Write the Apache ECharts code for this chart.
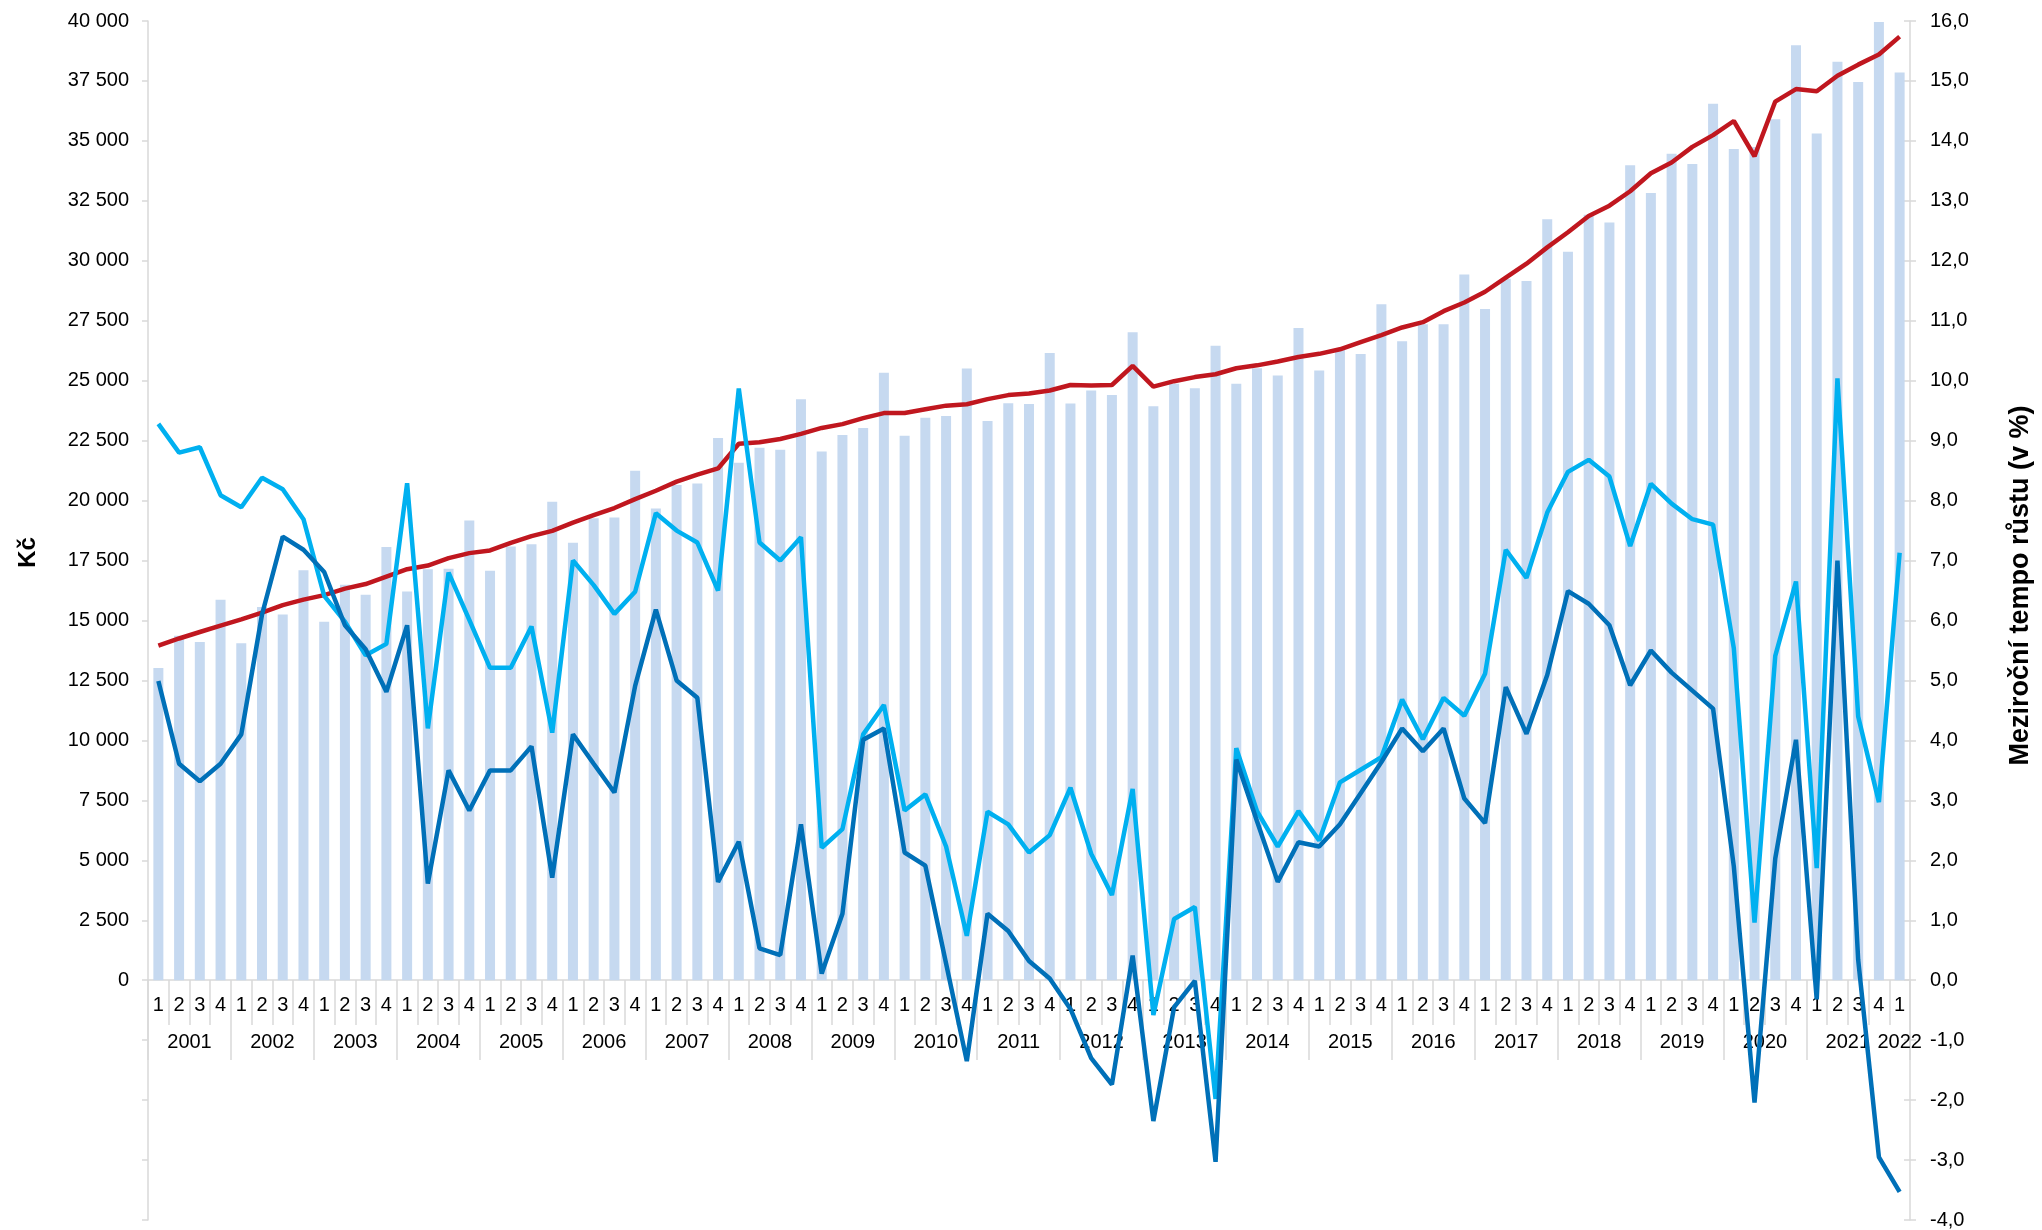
<!DOCTYPE html>
<html>
<head>
<meta charset="utf-8">
<script src="https://cdn.jsdelivr.net/npm/echarts@6/dist/echarts.min.js"></script>
<style>
  html, body { margin: 0; padding: 0; background: #fff; }
  #chart { width: 2042px; height: 1230px; }
</style>
</head>
<body>
<div id="chart"></div>
<script type="text/javascript">
// years and quarters shown on the category axis (series ends with 2022 Q1)
var years = [2001, 2002, 2003, 2004, 2005, 2006, 2007, 2008, 2009, 2010, 2011,
             2012, 2013, 2014, 2015, 2016, 2017, 2018, 2019, 2020, 2021, 2022];
var quarters = ['1', '2', '3', '4'];
var lastQuarters = 1;

// prumerna mzda (Kc), bars
var wages = [
  13020, 14360, 14100, 15870,  14050, 15560, 15250, 17100,  14950, 16490, 16070, 18060,
  16210, 17140, 17160, 19170,  17070, 18090, 18180, 19950,  18240, 19260, 19300, 21250,
  19670, 20650, 20710, 22610,  21580, 22200, 22120, 24230,  22050, 22740, 23030, 25330,
  22700, 23460, 23530, 25510,  23320, 24060, 24030, 26150,  24050, 24590, 24400, 27020,
  23930, 24870, 24680, 26460,  24870, 25520, 25220, 27200,  25430, 26310, 26110, 28190,
  26650, 27350, 27350, 29430,  27990, 29250, 29160, 31730,  30380, 31920, 31600, 33980,
  32830, 34460, 34040, 36550,  34660, 34750, 35900, 38990,  35310, 38300, 37460, 39960,
  37850
];

// klouzavy prumer (Kc), red line
var trend = [
  13950, 14250, 14520, 14790,  15050, 15330, 15640, 15870,  16060, 16330, 16520, 16830,
  17140, 17290, 17600, 17810,  17920, 18240, 18520, 18740,  19080, 19390, 19690, 20060,
  20410, 20790, 21080, 21340,  22370, 22430, 22570, 22780,  23030, 23190, 23440, 23650,
  23650, 23810, 23960, 24020,  24230, 24400, 24470, 24590,  24820, 24800, 24820, 25620,
  24750, 24980, 25150, 25270,  25520, 25640, 25800, 25990,  26120, 26310, 26610, 26900,
  27220, 27440, 27900, 28260,  28710, 29300, 29880, 30560,  31190, 31870, 32300, 32900,
  33650, 34100, 34750, 35240,  35830, 34360, 36640, 37160,  37070, 37720, 38180, 38600,
  39350
];

// mezirocni tempo rustu nominalni (%)
var nominal = [
  9.28, 8.80, 8.89, 8.09,  7.89, 8.38, 8.19, 7.69,  6.41, 5.98, 5.42, 5.61,
  8.29, 4.20, 6.80, 6.01,  5.21, 5.21, 5.90, 4.13,  7.00, 6.59, 6.11, 6.48,
  7.79, 7.50, 7.30, 6.50,  9.87, 7.30, 7.00, 7.39,  2.21, 2.52, 4.10, 4.59,
  2.83, 3.10, 2.23, 0.74,  2.81, 2.60, 2.13, 2.42,  3.21, 2.11, 1.42, 3.19,
  -0.58, 1.02, 1.22, -1.98, 3.87, 2.82, 2.23, 2.82,  2.33, 3.30, 3.51, 3.72,
  4.68, 4.02, 4.71, 4.41,  5.11, 7.18, 6.71, 7.80,  8.48, 8.68, 8.40, 7.24,
  8.28, 7.95, 7.69, 7.60,  5.54, 0.96, 5.41, 6.65,  1.87, 10.04, 4.40, 2.97,
  7.13
];

// mezirocni tempo rustu realne (%)
var real = [
  4.99, 3.61, 3.32, 3.61,  4.10, 6.10, 7.40, 7.18,  6.81, 5.92, 5.52, 4.81,
  5.92, 1.61, 3.50, 2.83,  3.50, 3.50, 3.90, 1.71,  4.10, 3.61, 3.13, 4.91,
  6.18, 5.00, 4.71, 1.64,  2.31, 0.53, 0.42, 2.60,  0.11, 1.11, 4.01, 4.20,
  2.13, 1.91, 0.28, -1.35,  1.11, 0.82, 0.32, 0.03,  -0.48, -1.30, -1.74, 0.41,
  -2.35, -0.45, -0.01, -3.03,  3.68, 2.65, 1.64, 2.30,  2.23, 2.60, 3.12, 3.64,
  4.20, 3.82, 4.20, 3.03,  2.62, 4.89, 4.11, 5.09,  6.49, 6.28, 5.92, 4.92,
  5.50, 5.13, 4.83, 4.53,  1.90, -2.04, 2.03, 4.01,  -0.32, 7.00, 0.34, -2.95,
  -3.53
];

var categories = [];
var catYear = [];
var catQuarter = [];
for (var y = 0; y < years.length; y++) {
  var n = (y === years.length - 1) ? lastQuarters : quarters.length;
  for (var q = 0; q < n; q++) {
    categories.push(years[y] + '-' + quarters[q]);
    catYear.push(years[y]);
    catQuarter.push(quarters[q]);
  }
}

var font = "'Liberation Sans', Arial, sans-serif";
var gray = '#d9d9d9';
var gridH = 1200;
var catW = (2042 - 148 - 125) / categories.length;
// x axis sits on the zero line: 4 of 20 right-axis units above the bottom
var zeroOffset = -gridH * 4 / 20;

function kc(v) {
  if (v < 0) return '';
  return String(v).replace(/\B(?=(\d{3})+(?!\d))/g, ' ');
}
function pct(v) {
  return v.toFixed(1).replace('.', ',');
}

var dom = document.getElementById('chart');
var myChart = echarts.init(dom);
var option = {
  animation: false,
  backgroundColor: '#fff',
  textStyle: { fontFamily: font },
  grid: { left: 148, right: 125, top: 21, bottom: 9, containLabel: false },
  xAxis: [{
    type: 'category',
    position: 'bottom',
    offset: zeroOffset,
    data: categories,
    boundaryGap: true,
    axisLine: { show: true, onZero: false, lineStyle: { color: gray, width: 1.5 } },
    axisTick: { show: true, interval: 0, length: 45, lineStyle: { color: gray, width: 1.5 } },
    axisLabel: {
      interval: 0, margin: 15, color: '#000', fontSize: 20, fontFamily: font,
      formatter: function (v, i) { return catQuarter[i]; }
    },
    splitLine: { show: false }
  }, {
    type: 'category',
    position: 'bottom',
    offset: zeroOffset,
    data: categories,
    boundaryGap: true,
    axisLine: { show: false, onZero: false },
    axisTick: {
      show: true, length: 80, lineStyle: { color: gray, width: 1.5 },
      interval: function (i) { return i % 4 === 0 && i < categories.length - 1; }
    },
    axisLabel: {
      interval: 0, margin: 52, color: '#000', fontSize: 20, fontFamily: font,
      formatter: function (v, i) {
        if (i === categories.length - 1 && catQuarter[i] === '1') return String(catYear[i]);
        if (catQuarter[i] === '2') return '{y|' + catYear[i] + '}';
        return '';
      },
      rich: { y: { fontSize: 20, fontFamily: font, color: '#000', padding: [0, 0, 0, catW] } }
    },
    splitLine: { show: false }
  }],
  yAxis: [{
    type: 'value',
    position: 'left',
    min: -10000, max: 40000, interval: 2500,
    name: 'Kč',
    nameLocation: 'middle',
    nameGap: 108,
    nameTextStyle: { fontSize: 24, fontWeight: 'bold', color: '#000', fontFamily: font, padding: [0, 0, 0, 136] },
    axisLine: { show: true, lineStyle: { color: gray, width: 1.5 } },
    axisTick: { show: true, length: 6, lineStyle: { color: gray, width: 1.5 } },
    axisLabel: { margin: 19, color: '#000', fontSize: 20, fontFamily: font, formatter: kc },
    splitLine: { show: false }
  }, {
    type: 'value',
    position: 'right',
    min: -4, max: 16, interval: 1,
    name: 'Meziroční tempo růstu (v %)',
    nameLocation: 'middle',
    nameGap: 97,
    nameTextStyle: { fontSize: 27, fontWeight: 'bold', color: '#000', fontFamily: font, padding: [0, 0, 0, 70] },
    axisLine: { show: true, lineStyle: { color: gray, width: 1.5 } },
    axisTick: { show: true, length: 6, lineStyle: { color: gray, width: 1.5 } },
    axisLabel: { margin: 20, color: '#000', fontSize: 20, fontFamily: font, formatter: pct },
    splitLine: { show: false }
  }, {
    // inner half of the crossing ticks on the right axis
    type: 'value',
    position: 'right',
    min: -4, max: 16, interval: 1,
    axisLine: { show: false },
    axisTick: { show: true, inside: true, length: 6, lineStyle: { color: gray, width: 1.5 } },
    axisLabel: { show: false },
    splitLine: { show: false }
  }],
  series: [{
    name: 'mzda',
    type: 'bar',
    xAxisIndex: 0,
    yAxisIndex: 0,
    barWidth: 10,
    itemStyle: { color: '#c6d9f0' },
    data: wages,
    z: 1
  }, {
    name: 'trend',
    type: 'line',
    xAxisIndex: 0,
    yAxisIndex: 0,
    symbol: 'none',
    lineStyle: { color: '#c0171f', width: 4.5 },
    data: trend,
    z: 3
  }, {
    name: 'nominální',
    type: 'line',
    xAxisIndex: 0,
    yAxisIndex: 1,
    symbol: 'none',
    lineStyle: { color: '#00b0f0', width: 4.5 },
    data: nominal,
    z: 4
  }, {
    name: 'reálné',
    type: 'line',
    xAxisIndex: 0,
    yAxisIndex: 1,
    symbol: 'none',
    lineStyle: { color: '#0070b8', width: 4.5 },
    data: real,
    z: 5
  }]
};

if (option && typeof option === "object") {
  myChart.setOption(option, true);
}
</script>
</body>
</html>
